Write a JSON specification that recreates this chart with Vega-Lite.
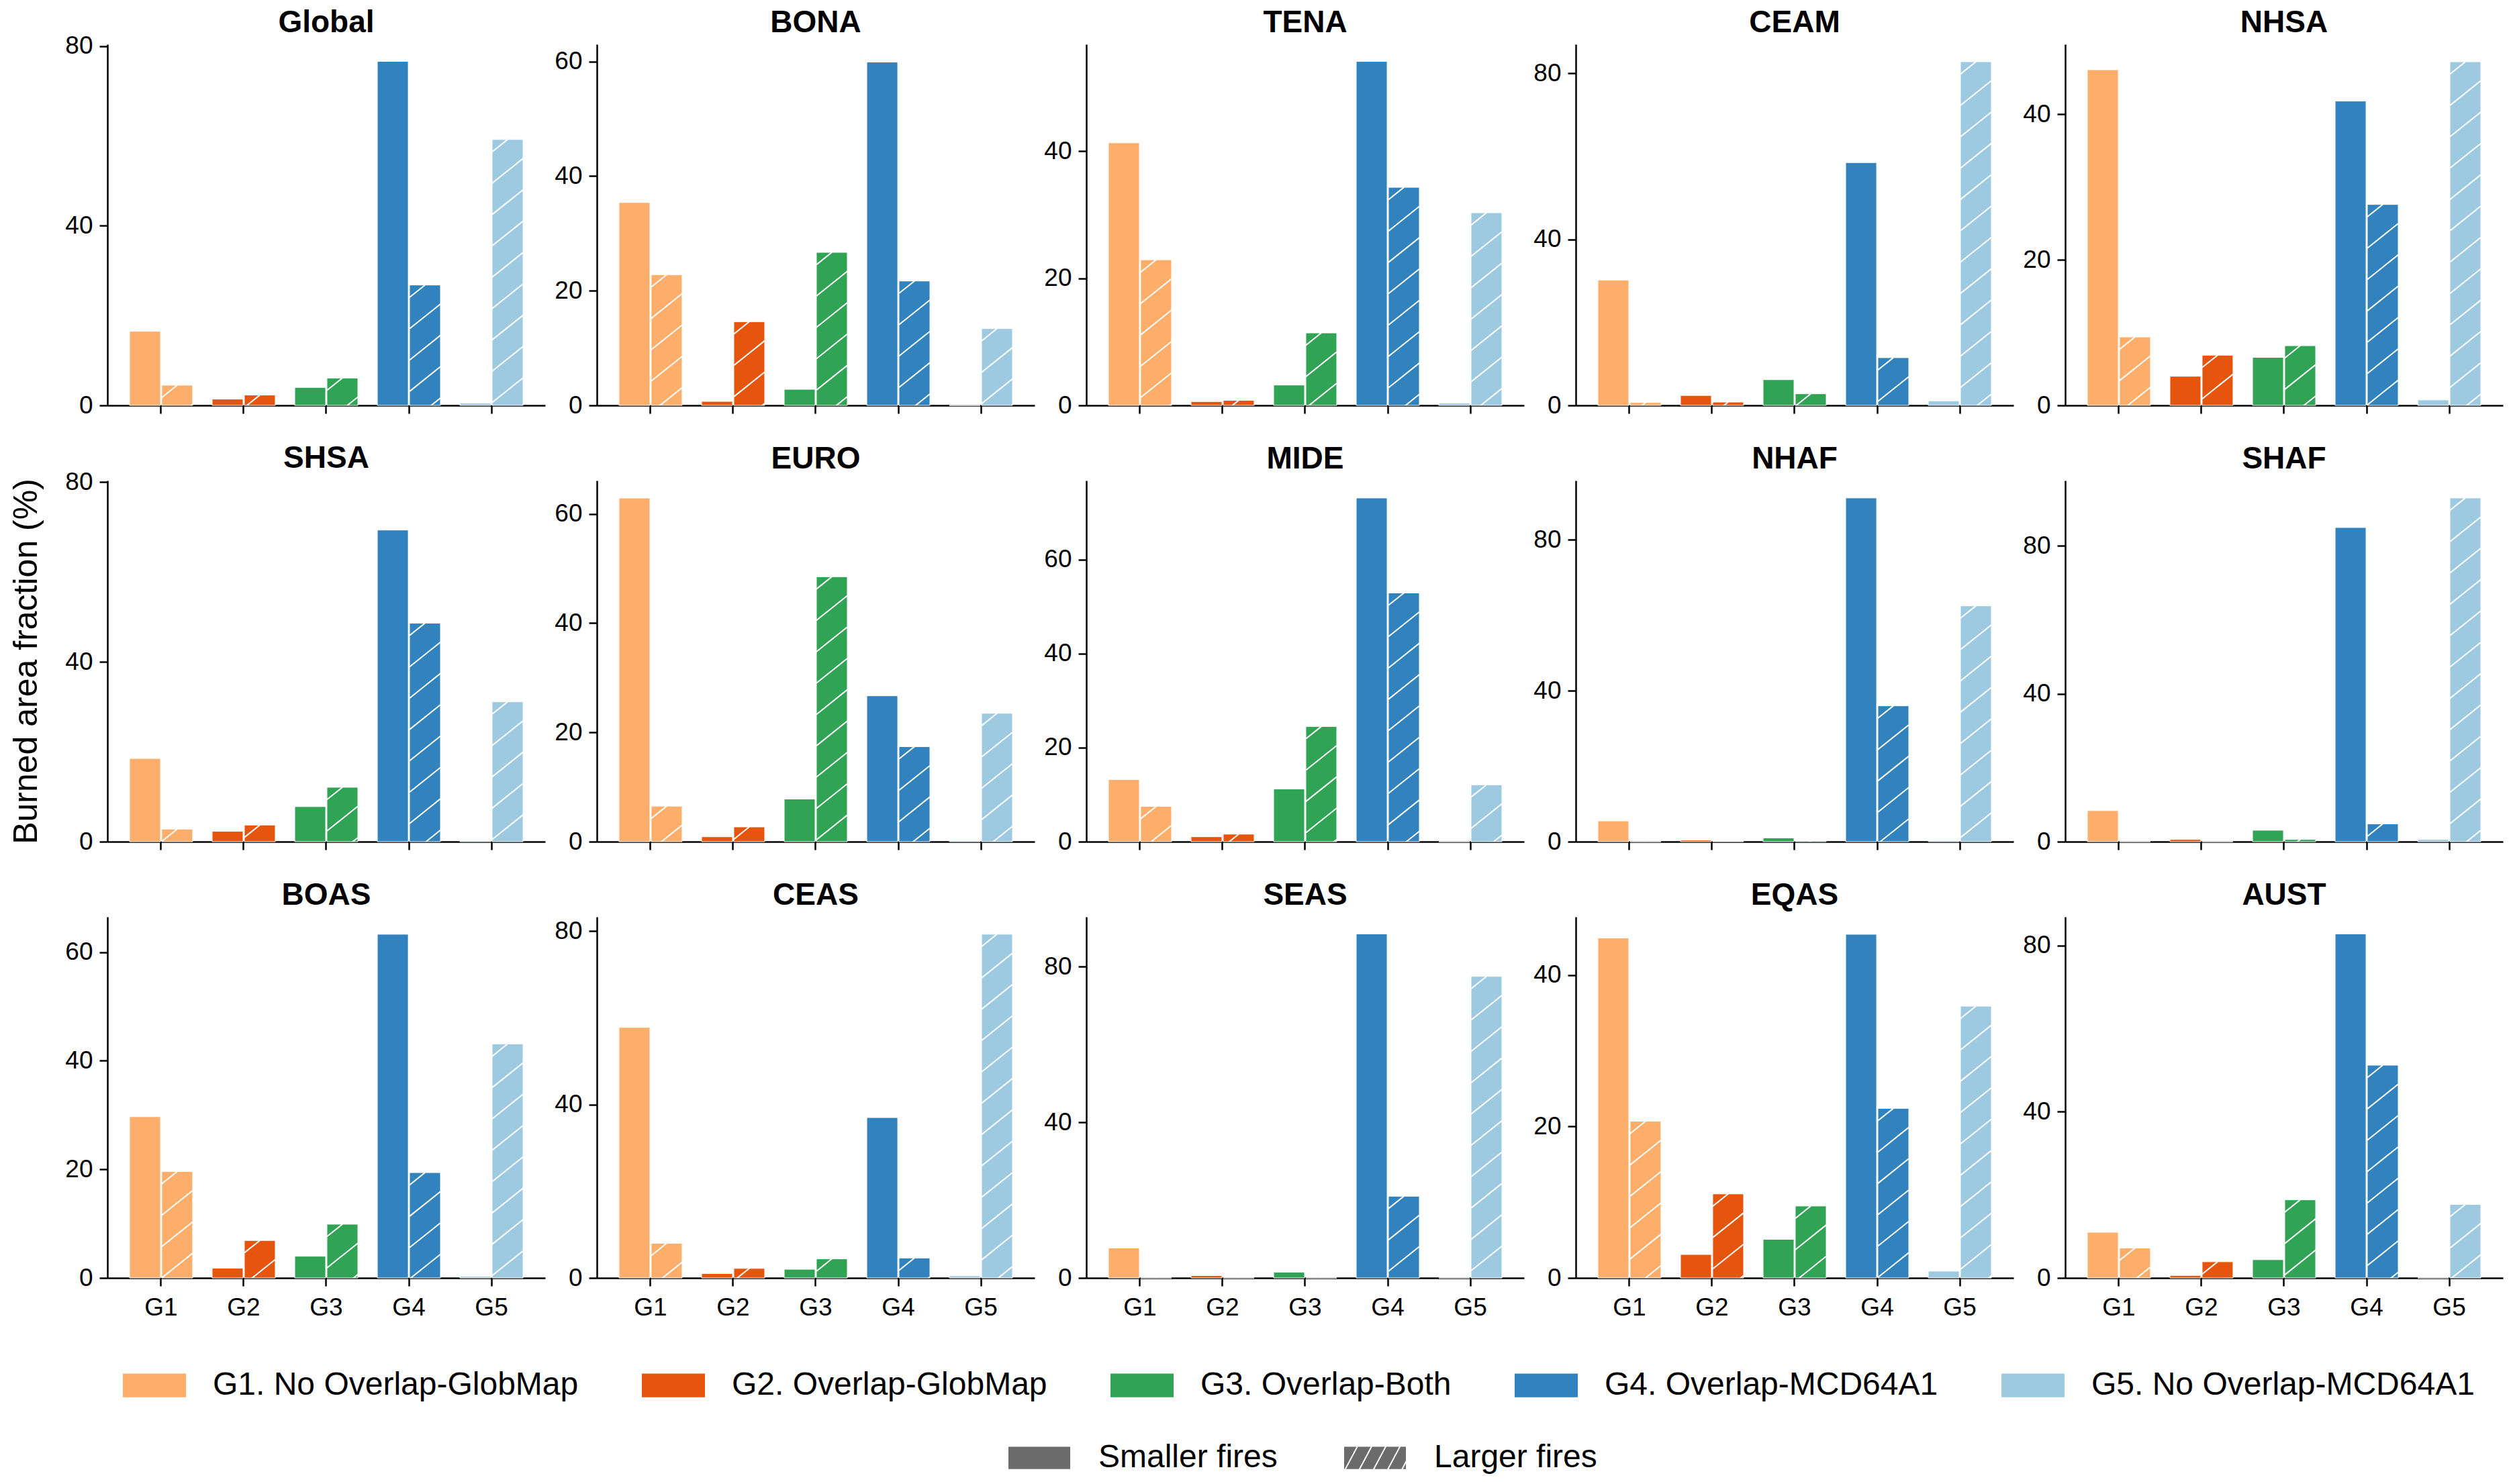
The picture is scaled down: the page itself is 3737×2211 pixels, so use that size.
{
  "$schema": "https://vega.github.io/schema/vega-lite/v6.json",
  "padding": {"left": 14, "top": 10, "right": 10, "bottom": 4},
  "background": "white",
  "data": {"values": [
    {"region": "Global", "group": "G1", "size": "Smaller fires", "value": 16.5},
    {"region": "Global", "group": "G1", "size": "Larger fires", "value": 4.5},
    {"region": "Global", "group": "G2", "size": "Smaller fires", "value": 1.4},
    {"region": "Global", "group": "G2", "size": "Larger fires", "value": 2.3},
    {"region": "Global", "group": "G3", "size": "Smaller fires", "value": 4.0},
    {"region": "Global", "group": "G3", "size": "Larger fires", "value": 6.1},
    {"region": "Global", "group": "G4", "size": "Smaller fires", "value": 76.6},
    {"region": "Global", "group": "G4", "size": "Larger fires", "value": 26.8},
    {"region": "Global", "group": "G5", "size": "Smaller fires", "value": 0.5},
    {"region": "Global", "group": "G5", "size": "Larger fires", "value": 59.2},
    {"region": "BONA", "group": "G1", "size": "Smaller fires", "value": 35.4},
    {"region": "BONA", "group": "G1", "size": "Larger fires", "value": 22.8},
    {"region": "BONA", "group": "G2", "size": "Smaller fires", "value": 0.7},
    {"region": "BONA", "group": "G2", "size": "Larger fires", "value": 14.6},
    {"region": "BONA", "group": "G3", "size": "Smaller fires", "value": 2.8},
    {"region": "BONA", "group": "G3", "size": "Larger fires", "value": 26.7},
    {"region": "BONA", "group": "G4", "size": "Smaller fires", "value": 59.9},
    {"region": "BONA", "group": "G4", "size": "Larger fires", "value": 21.7},
    {"region": "BONA", "group": "G5", "size": "Smaller fires", "value": 0},
    {"region": "BONA", "group": "G5", "size": "Larger fires", "value": 13.4},
    {"region": "TENA", "group": "G1", "size": "Smaller fires", "value": 41.3},
    {"region": "TENA", "group": "G1", "size": "Larger fires", "value": 22.9},
    {"region": "TENA", "group": "G2", "size": "Smaller fires", "value": 0.6},
    {"region": "TENA", "group": "G2", "size": "Larger fires", "value": 0.8},
    {"region": "TENA", "group": "G3", "size": "Smaller fires", "value": 3.2},
    {"region": "TENA", "group": "G3", "size": "Larger fires", "value": 11.4},
    {"region": "TENA", "group": "G4", "size": "Smaller fires", "value": 54.1},
    {"region": "TENA", "group": "G4", "size": "Larger fires", "value": 34.3},
    {"region": "TENA", "group": "G5", "size": "Smaller fires", "value": 0.35},
    {"region": "TENA", "group": "G5", "size": "Larger fires", "value": 30.3},
    {"region": "CEAM", "group": "G1", "size": "Smaller fires", "value": 30.2},
    {"region": "CEAM", "group": "G1", "size": "Larger fires", "value": 0.7},
    {"region": "CEAM", "group": "G2", "size": "Smaller fires", "value": 2.4},
    {"region": "CEAM", "group": "G2", "size": "Larger fires", "value": 0.8},
    {"region": "CEAM", "group": "G3", "size": "Smaller fires", "value": 6.2},
    {"region": "CEAM", "group": "G3", "size": "Larger fires", "value": 2.8},
    {"region": "CEAM", "group": "G4", "size": "Smaller fires", "value": 58.5},
    {"region": "CEAM", "group": "G4", "size": "Larger fires", "value": 11.5},
    {"region": "CEAM", "group": "G5", "size": "Smaller fires", "value": 1.1},
    {"region": "CEAM", "group": "G5", "size": "Larger fires", "value": 82.8},
    {"region": "NHSA", "group": "G1", "size": "Smaller fires", "value": 46.1},
    {"region": "NHSA", "group": "G1", "size": "Larger fires", "value": 9.4},
    {"region": "NHSA", "group": "G2", "size": "Smaller fires", "value": 4.0},
    {"region": "NHSA", "group": "G2", "size": "Larger fires", "value": 6.9},
    {"region": "NHSA", "group": "G3", "size": "Smaller fires", "value": 6.6},
    {"region": "NHSA", "group": "G3", "size": "Larger fires", "value": 8.2},
    {"region": "NHSA", "group": "G4", "size": "Smaller fires", "value": 41.8},
    {"region": "NHSA", "group": "G4", "size": "Larger fires", "value": 27.6},
    {"region": "NHSA", "group": "G5", "size": "Smaller fires", "value": 0.75},
    {"region": "NHSA", "group": "G5", "size": "Larger fires", "value": 47.2},
    {"region": "SHSA", "group": "G1", "size": "Smaller fires", "value": 18.5},
    {"region": "SHSA", "group": "G1", "size": "Larger fires", "value": 2.8},
    {"region": "SHSA", "group": "G2", "size": "Smaller fires", "value": 2.3},
    {"region": "SHSA", "group": "G2", "size": "Larger fires", "value": 3.7},
    {"region": "SHSA", "group": "G3", "size": "Smaller fires", "value": 7.8},
    {"region": "SHSA", "group": "G3", "size": "Larger fires", "value": 12.1},
    {"region": "SHSA", "group": "G4", "size": "Smaller fires", "value": 69.3},
    {"region": "SHSA", "group": "G4", "size": "Larger fires", "value": 48.6},
    {"region": "SHSA", "group": "G5", "size": "Smaller fires", "value": 0.2},
    {"region": "SHSA", "group": "G5", "size": "Larger fires", "value": 31.1},
    {"region": "EURO", "group": "G1", "size": "Smaller fires", "value": 62.9},
    {"region": "EURO", "group": "G1", "size": "Larger fires", "value": 6.5},
    {"region": "EURO", "group": "G2", "size": "Smaller fires", "value": 0.9},
    {"region": "EURO", "group": "G2", "size": "Larger fires", "value": 2.7},
    {"region": "EURO", "group": "G3", "size": "Smaller fires", "value": 7.8},
    {"region": "EURO", "group": "G3", "size": "Larger fires", "value": 48.5},
    {"region": "EURO", "group": "G4", "size": "Smaller fires", "value": 26.7},
    {"region": "EURO", "group": "G4", "size": "Larger fires", "value": 17.4},
    {"region": "EURO", "group": "G5", "size": "Smaller fires", "value": 0.15},
    {"region": "EURO", "group": "G5", "size": "Larger fires", "value": 23.5},
    {"region": "MIDE", "group": "G1", "size": "Smaller fires", "value": 13.2},
    {"region": "MIDE", "group": "G1", "size": "Larger fires", "value": 7.5},
    {"region": "MIDE", "group": "G2", "size": "Smaller fires", "value": 1.05},
    {"region": "MIDE", "group": "G2", "size": "Larger fires", "value": 1.6},
    {"region": "MIDE", "group": "G3", "size": "Smaller fires", "value": 11.2},
    {"region": "MIDE", "group": "G3", "size": "Larger fires", "value": 24.5},
    {"region": "MIDE", "group": "G4", "size": "Smaller fires", "value": 73.1},
    {"region": "MIDE", "group": "G4", "size": "Larger fires", "value": 52.9},
    {"region": "MIDE", "group": "G5", "size": "Smaller fires", "value": 0},
    {"region": "MIDE", "group": "G5", "size": "Larger fires", "value": 12.1},
    {"region": "NHAF", "group": "G1", "size": "Smaller fires", "value": 5.5},
    {"region": "NHAF", "group": "G1", "size": "Larger fires", "value": 0},
    {"region": "NHAF", "group": "G2", "size": "Smaller fires", "value": 0.4},
    {"region": "NHAF", "group": "G2", "size": "Larger fires", "value": 0.1},
    {"region": "NHAF", "group": "G3", "size": "Smaller fires", "value": 1.0},
    {"region": "NHAF", "group": "G3", "size": "Larger fires", "value": 0.2},
    {"region": "NHAF", "group": "G4", "size": "Smaller fires", "value": 91.1},
    {"region": "NHAF", "group": "G4", "size": "Larger fires", "value": 36.0},
    {"region": "NHAF", "group": "G5", "size": "Smaller fires", "value": 0.3},
    {"region": "NHAF", "group": "G5", "size": "Larger fires", "value": 62.5},
    {"region": "SHAF", "group": "G1", "size": "Smaller fires", "value": 8.4},
    {"region": "SHAF", "group": "G1", "size": "Larger fires", "value": 0},
    {"region": "SHAF", "group": "G2", "size": "Smaller fires", "value": 0.6},
    {"region": "SHAF", "group": "G2", "size": "Larger fires", "value": 0},
    {"region": "SHAF", "group": "G3", "size": "Smaller fires", "value": 3.1},
    {"region": "SHAF", "group": "G3", "size": "Larger fires", "value": 0.6},
    {"region": "SHAF", "group": "G4", "size": "Smaller fires", "value": 85.0},
    {"region": "SHAF", "group": "G4", "size": "Larger fires", "value": 4.8},
    {"region": "SHAF", "group": "G5", "size": "Smaller fires", "value": 0.6},
    {"region": "SHAF", "group": "G5", "size": "Larger fires", "value": 93.0},
    {"region": "BOAS", "group": "G1", "size": "Smaller fires", "value": 29.7},
    {"region": "BOAS", "group": "G1", "size": "Larger fires", "value": 19.6},
    {"region": "BOAS", "group": "G2", "size": "Smaller fires", "value": 1.8},
    {"region": "BOAS", "group": "G2", "size": "Larger fires", "value": 6.9},
    {"region": "BOAS", "group": "G3", "size": "Smaller fires", "value": 4.0},
    {"region": "BOAS", "group": "G3", "size": "Larger fires", "value": 9.9},
    {"region": "BOAS", "group": "G4", "size": "Smaller fires", "value": 63.3},
    {"region": "BOAS", "group": "G4", "size": "Larger fires", "value": 19.4},
    {"region": "BOAS", "group": "G5", "size": "Smaller fires", "value": 0.3},
    {"region": "BOAS", "group": "G5", "size": "Larger fires", "value": 43.1},
    {"region": "CEAS", "group": "G1", "size": "Smaller fires", "value": 57.8},
    {"region": "CEAS", "group": "G1", "size": "Larger fires", "value": 8.0},
    {"region": "CEAS", "group": "G2", "size": "Smaller fires", "value": 1.0},
    {"region": "CEAS", "group": "G2", "size": "Larger fires", "value": 2.2},
    {"region": "CEAS", "group": "G3", "size": "Smaller fires", "value": 2.0},
    {"region": "CEAS", "group": "G3", "size": "Larger fires", "value": 4.4},
    {"region": "CEAS", "group": "G4", "size": "Smaller fires", "value": 37.0},
    {"region": "CEAS", "group": "G4", "size": "Larger fires", "value": 4.6},
    {"region": "CEAS", "group": "G5", "size": "Smaller fires", "value": 0.5},
    {"region": "CEAS", "group": "G5", "size": "Larger fires", "value": 79.3},
    {"region": "SEAS", "group": "G1", "size": "Smaller fires", "value": 7.7},
    {"region": "SEAS", "group": "G1", "size": "Larger fires", "value": 0},
    {"region": "SEAS", "group": "G2", "size": "Smaller fires", "value": 0.6},
    {"region": "SEAS", "group": "G2", "size": "Larger fires", "value": 0},
    {"region": "SEAS", "group": "G3", "size": "Smaller fires", "value": 1.5},
    {"region": "SEAS", "group": "G3", "size": "Larger fires", "value": 0},
    {"region": "SEAS", "group": "G4", "size": "Smaller fires", "value": 88.4},
    {"region": "SEAS", "group": "G4", "size": "Larger fires", "value": 21.0},
    {"region": "SEAS", "group": "G5", "size": "Smaller fires", "value": 0},
    {"region": "SEAS", "group": "G5", "size": "Larger fires", "value": 77.5},
    {"region": "EQAS", "group": "G1", "size": "Smaller fires", "value": 44.9},
    {"region": "EQAS", "group": "G1", "size": "Larger fires", "value": 20.7},
    {"region": "EQAS", "group": "G2", "size": "Smaller fires", "value": 3.1},
    {"region": "EQAS", "group": "G2", "size": "Larger fires", "value": 11.1},
    {"region": "EQAS", "group": "G3", "size": "Smaller fires", "value": 5.1},
    {"region": "EQAS", "group": "G3", "size": "Larger fires", "value": 9.5},
    {"region": "EQAS", "group": "G4", "size": "Smaller fires", "value": 45.4},
    {"region": "EQAS", "group": "G4", "size": "Larger fires", "value": 22.4},
    {"region": "EQAS", "group": "G5", "size": "Smaller fires", "value": 0.9},
    {"region": "EQAS", "group": "G5", "size": "Larger fires", "value": 35.9},
    {"region": "AUST", "group": "G1", "size": "Smaller fires", "value": 11.0},
    {"region": "AUST", "group": "G1", "size": "Larger fires", "value": 7.2},
    {"region": "AUST", "group": "G2", "size": "Smaller fires", "value": 0.6},
    {"region": "AUST", "group": "G2", "size": "Larger fires", "value": 3.9},
    {"region": "AUST", "group": "G3", "size": "Smaller fires", "value": 4.4},
    {"region": "AUST", "group": "G3", "size": "Larger fires", "value": 18.8},
    {"region": "AUST", "group": "G4", "size": "Smaller fires", "value": 82.8},
    {"region": "AUST", "group": "G4", "size": "Larger fires", "value": 51.2},
    {"region": "AUST", "group": "G5", "size": "Smaller fires", "value": 0},
    {"region": "AUST", "group": "G5", "size": "Larger fires", "value": 17.7}
  ]},
  "columns": 5,
  "bounds": "flush",
  "spacing": {"row": 112, "column": 77},
  "concat": [
    {"title": {"text": "Global", "offset": -8}, "transform": [{"filter": "datum.region === 'Global'"}],
     "encoding": {
       "x": {"field": "group", "type": "nominal", "scale": {"paddingInner": 0.236, "paddingOuter": 0.268}, "axis": {"title": null, "labels": false}},
       "xOffset": {"field": "size", "type": "nominal", "scale": {"domain": ["Smaller fires", "Larger fires"], "paddingInner": 0.04}},
       "y": {"field": "value", "type": "quantitative", "scale": {"domain": [0, 80.4], "nice": false}, "axis": {"values": [0, 40, 80], "title": null}}},
     "layer": [
       {"mark": {"type": "bar", "stroke": "white", "strokeWidth": 1},
        "encoding": {"color": {"field": "group", "type": "nominal",
          "scale": {"domain": ["G1", "G2", "G3", "G4", "G5"], "range": ["#fdae6b", "#e6550d", "#31a354", "#3182bd", "#9ecae1"]},
          "legend": {"title": null, "orient": "none", "legendX": 23, "legendY": 1951,
            "labelExpr": "{'G1': 'G1. No Overlap-GlobMap', 'G2': 'G2. Overlap-GlobMap', 'G3': 'G3. Overlap-Both', 'G4': 'G4. Overlap-MCD64A1', 'G5': 'G5. No Overlap-MCD64A1'}[datum.label]"}}}},
       {"transform": [{"filter": "datum.size === 'Larger fires'"}],
        "mark": {"type": "point", "filled": false, "stroke": "white", "strokeWidth": 2, "opacity": 1, "size": 2116, "clip": true, "shape": "M-1,0.8L0,0M-1,2.83L1,1.23M-1,4.86L1,3.26M-1,6.89L1,5.29M-1,8.92L1,7.32M-1,10.95L1,9.35M-1,12.98L1,11.38M-1,15.01L1,13.41M-1,17.04L1,15.44M-1,19.07L1,17.47M-1,21.1L1,19.5M-1,23.13L1,21.53M-1,25.16L1,23.56M-1,27.19L1,25.59"}},
       {"mark": {"type": "point", "filled": true, "fill": "#6b6b6b", "strokeWidth": 2, "opacity": 0, "size": 8836, "clip": true},
        "encoding": {
          "shape": {"field": "size", "type": "nominal",
            "scale": {"domain": ["Smaller fires", "Larger fires"], "range": ["M-1,-0.375H1V0.375H-1Z", "M-1,-0.375H1V0.375H-1ZM-0.95,0.375L-0.55,-0.375M-0.5,0.375L-0.1,-0.375M-0.05,0.375L0.35,-0.375M0.4,0.375L0.8,-0.375M0.85,0.375L1,0.09"]},
            "legend": {"title": null, "orient": "none", "legendX": 1340, "legendY": 2058, "symbolOpacity": 1, "symbolStrokeWidth": 2}},
          "stroke": {"field": "size", "type": "nominal",
            "scale": {"domain": ["Smaller fires", "Larger fires"], "range": ["white", "white"]},
            "legend": {"title": null, "orient": "none", "legendX": 1340, "legendY": 2058, "symbolOpacity": 1, "symbolStrokeWidth": 2}}}}
     ]},
    {"title": "BONA", "transform": [{"filter": "datum.region === 'BONA'"}],
     "encoding": {
       "x": {"field": "group", "type": "nominal", "scale": {"paddingInner": 0.236, "paddingOuter": 0.268}, "axis": {"title": null, "labels": false}},
       "xOffset": {"field": "size", "type": "nominal", "scale": {"domain": ["Smaller fires", "Larger fires"], "paddingInner": 0.04}},
       "y": {"field": "value", "type": "quantitative", "scale": {"domain": [0, 63.0], "nice": false}, "axis": {"values": [0, 20, 40, 60], "title": null}}},
     "layer": [
       {"mark": {"type": "bar", "stroke": "white", "strokeWidth": 1}, "encoding": {"color": {"field": "group", "type": "nominal", "legend": null}}},
       {"transform": [{"filter": "datum.size === 'Larger fires'"}], "mark": {"type": "point", "filled": false, "stroke": "white", "strokeWidth": 2, "opacity": 1, "size": 2116, "clip": true, "shape": "M-1,0.8L0,0M-1,2.83L1,1.23M-1,4.86L1,3.26M-1,6.89L1,5.29M-1,8.92L1,7.32M-1,10.95L1,9.35M-1,12.98L1,11.38M-1,15.01L1,13.41M-1,17.04L1,15.44M-1,19.07L1,17.47M-1,21.1L1,19.5M-1,23.13L1,21.53M-1,25.16L1,23.56M-1,27.19L1,25.59"}}
     ]},
    {"title": "TENA", "transform": [{"filter": "datum.region === 'TENA'"}],
     "encoding": {
       "x": {"field": "group", "type": "nominal", "scale": {"paddingInner": 0.236, "paddingOuter": 0.268}, "axis": {"title": null, "labels": false}},
       "xOffset": {"field": "size", "type": "nominal", "scale": {"domain": ["Smaller fires", "Larger fires"], "paddingInner": 0.04}},
       "y": {"field": "value", "type": "quantitative", "scale": {"domain": [0, 56.8], "nice": false}, "axis": {"values": [0, 20, 40], "title": null}}},
     "layer": [
       {"mark": {"type": "bar", "stroke": "white", "strokeWidth": 1}, "encoding": {"color": {"field": "group", "type": "nominal", "legend": null}}},
       {"transform": [{"filter": "datum.size === 'Larger fires'"}], "mark": {"type": "point", "filled": false, "stroke": "white", "strokeWidth": 2, "opacity": 1, "size": 2116, "clip": true, "shape": "M-1,0.8L0,0M-1,2.83L1,1.23M-1,4.86L1,3.26M-1,6.89L1,5.29M-1,8.92L1,7.32M-1,10.95L1,9.35M-1,12.98L1,11.38M-1,15.01L1,13.41M-1,17.04L1,15.44M-1,19.07L1,17.47M-1,21.1L1,19.5M-1,23.13L1,21.53M-1,25.16L1,23.56M-1,27.19L1,25.59"}}
     ]},
    {"title": "CEAM", "transform": [{"filter": "datum.region === 'CEAM'"}],
     "encoding": {
       "x": {"field": "group", "type": "nominal", "scale": {"paddingInner": 0.236, "paddingOuter": 0.268}, "axis": {"title": null, "labels": false}},
       "xOffset": {"field": "size", "type": "nominal", "scale": {"domain": ["Smaller fires", "Larger fires"], "paddingInner": 0.04}},
       "y": {"field": "value", "type": "quantitative", "scale": {"domain": [0, 87.0], "nice": false}, "axis": {"values": [0, 40, 80], "title": null}}},
     "layer": [
       {"mark": {"type": "bar", "stroke": "white", "strokeWidth": 1}, "encoding": {"color": {"field": "group", "type": "nominal", "legend": null}}},
       {"transform": [{"filter": "datum.size === 'Larger fires'"}], "mark": {"type": "point", "filled": false, "stroke": "white", "strokeWidth": 2, "opacity": 1, "size": 2116, "clip": true, "shape": "M-1,0.8L0,0M-1,2.83L1,1.23M-1,4.86L1,3.26M-1,6.89L1,5.29M-1,8.92L1,7.32M-1,10.95L1,9.35M-1,12.98L1,11.38M-1,15.01L1,13.41M-1,17.04L1,15.44M-1,19.07L1,17.47M-1,21.1L1,19.5M-1,23.13L1,21.53M-1,25.16L1,23.56M-1,27.19L1,25.59"}}
     ]},
    {"title": "NHSA", "transform": [{"filter": "datum.region === 'NHSA'"}],
     "encoding": {
       "x": {"field": "group", "type": "nominal", "scale": {"paddingInner": 0.236, "paddingOuter": 0.268}, "axis": {"title": null, "labels": false}},
       "xOffset": {"field": "size", "type": "nominal", "scale": {"domain": ["Smaller fires", "Larger fires"], "paddingInner": 0.04}},
       "y": {"field": "value", "type": "quantitative", "scale": {"domain": [0, 49.6], "nice": false}, "axis": {"values": [0, 20, 40], "title": null}}},
     "layer": [
       {"mark": {"type": "bar", "stroke": "white", "strokeWidth": 1}, "encoding": {"color": {"field": "group", "type": "nominal", "legend": null}}},
       {"transform": [{"filter": "datum.size === 'Larger fires'"}], "mark": {"type": "point", "filled": false, "stroke": "white", "strokeWidth": 2, "opacity": 1, "size": 2116, "clip": true, "shape": "M-1,0.8L0,0M-1,2.83L1,1.23M-1,4.86L1,3.26M-1,6.89L1,5.29M-1,8.92L1,7.32M-1,10.95L1,9.35M-1,12.98L1,11.38M-1,15.01L1,13.41M-1,17.04L1,15.44M-1,19.07L1,17.47M-1,21.1L1,19.5M-1,23.13L1,21.53M-1,25.16L1,23.56M-1,27.19L1,25.59"}}
     ]},
    {"title": {"text": "SHSA", "offset": -8}, "transform": [{"filter": "datum.region === 'SHSA'"}],
     "encoding": {
       "x": {"field": "group", "type": "nominal", "scale": {"paddingInner": 0.236, "paddingOuter": 0.268}, "axis": {"title": null, "labels": false}},
       "xOffset": {"field": "size", "type": "nominal", "scale": {"domain": ["Smaller fires", "Larger fires"], "paddingInner": 0.04}},
       "y": {"field": "value", "type": "quantitative", "scale": {"domain": [0, 80.3], "nice": false}, "axis": {"values": [0, 40, 80], "title": "Burned area fraction (%)", "titlePadding": 32}}},
     "layer": [
       {"mark": {"type": "bar", "stroke": "white", "strokeWidth": 1}, "encoding": {"color": {"field": "group", "type": "nominal", "legend": null}}},
       {"transform": [{"filter": "datum.size === 'Larger fires'"}], "mark": {"type": "point", "filled": false, "stroke": "white", "strokeWidth": 2, "opacity": 1, "size": 2116, "clip": true, "shape": "M-1,0.8L0,0M-1,2.83L1,1.23M-1,4.86L1,3.26M-1,6.89L1,5.29M-1,8.92L1,7.32M-1,10.95L1,9.35M-1,12.98L1,11.38M-1,15.01L1,13.41M-1,17.04L1,15.44M-1,19.07L1,17.47M-1,21.1L1,19.5M-1,23.13L1,21.53M-1,25.16L1,23.56M-1,27.19L1,25.59"}}
     ]},
    {"title": "EURO", "transform": [{"filter": "datum.region === 'EURO'"}],
     "encoding": {
       "x": {"field": "group", "type": "nominal", "scale": {"paddingInner": 0.236, "paddingOuter": 0.268}, "axis": {"title": null, "labels": false}},
       "xOffset": {"field": "size", "type": "nominal", "scale": {"domain": ["Smaller fires", "Larger fires"], "paddingInner": 0.04}},
       "y": {"field": "value", "type": "quantitative", "scale": {"domain": [0, 66.1], "nice": false}, "axis": {"values": [0, 20, 40, 60], "title": null}}},
     "layer": [
       {"mark": {"type": "bar", "stroke": "white", "strokeWidth": 1}, "encoding": {"color": {"field": "group", "type": "nominal", "legend": null}}},
       {"transform": [{"filter": "datum.size === 'Larger fires'"}], "mark": {"type": "point", "filled": false, "stroke": "white", "strokeWidth": 2, "opacity": 1, "size": 2116, "clip": true, "shape": "M-1,0.8L0,0M-1,2.83L1,1.23M-1,4.86L1,3.26M-1,6.89L1,5.29M-1,8.92L1,7.32M-1,10.95L1,9.35M-1,12.98L1,11.38M-1,15.01L1,13.41M-1,17.04L1,15.44M-1,19.07L1,17.47M-1,21.1L1,19.5M-1,23.13L1,21.53M-1,25.16L1,23.56M-1,27.19L1,25.59"}}
     ]},
    {"title": "MIDE", "transform": [{"filter": "datum.region === 'MIDE'"}],
     "encoding": {
       "x": {"field": "group", "type": "nominal", "scale": {"paddingInner": 0.236, "paddingOuter": 0.268}, "axis": {"title": null, "labels": false}},
       "xOffset": {"field": "size", "type": "nominal", "scale": {"domain": ["Smaller fires", "Larger fires"], "paddingInner": 0.04}},
       "y": {"field": "value", "type": "quantitative", "scale": {"domain": [0, 76.8], "nice": false}, "axis": {"values": [0, 20, 40, 60], "title": null}}},
     "layer": [
       {"mark": {"type": "bar", "stroke": "white", "strokeWidth": 1}, "encoding": {"color": {"field": "group", "type": "nominal", "legend": null}}},
       {"transform": [{"filter": "datum.size === 'Larger fires'"}], "mark": {"type": "point", "filled": false, "stroke": "white", "strokeWidth": 2, "opacity": 1, "size": 2116, "clip": true, "shape": "M-1,0.8L0,0M-1,2.83L1,1.23M-1,4.86L1,3.26M-1,6.89L1,5.29M-1,8.92L1,7.32M-1,10.95L1,9.35M-1,12.98L1,11.38M-1,15.01L1,13.41M-1,17.04L1,15.44M-1,19.07L1,17.47M-1,21.1L1,19.5M-1,23.13L1,21.53M-1,25.16L1,23.56M-1,27.19L1,25.59"}}
     ]},
    {"title": "NHAF", "transform": [{"filter": "datum.region === 'NHAF'"}],
     "encoding": {
       "x": {"field": "group", "type": "nominal", "scale": {"paddingInner": 0.236, "paddingOuter": 0.268}, "axis": {"title": null, "labels": false}},
       "xOffset": {"field": "size", "type": "nominal", "scale": {"domain": ["Smaller fires", "Larger fires"], "paddingInner": 0.04}},
       "y": {"field": "value", "type": "quantitative", "scale": {"domain": [0, 95.7], "nice": false}, "axis": {"values": [0, 40, 80], "title": null}}},
     "layer": [
       {"mark": {"type": "bar", "stroke": "white", "strokeWidth": 1}, "encoding": {"color": {"field": "group", "type": "nominal", "legend": null}}},
       {"transform": [{"filter": "datum.size === 'Larger fires'"}], "mark": {"type": "point", "filled": false, "stroke": "white", "strokeWidth": 2, "opacity": 1, "size": 2116, "clip": true, "shape": "M-1,0.8L0,0M-1,2.83L1,1.23M-1,4.86L1,3.26M-1,6.89L1,5.29M-1,8.92L1,7.32M-1,10.95L1,9.35M-1,12.98L1,11.38M-1,15.01L1,13.41M-1,17.04L1,15.44M-1,19.07L1,17.47M-1,21.1L1,19.5M-1,23.13L1,21.53M-1,25.16L1,23.56M-1,27.19L1,25.59"}}
     ]},
    {"title": "SHAF", "transform": [{"filter": "datum.region === 'SHAF'"}],
     "encoding": {
       "x": {"field": "group", "type": "nominal", "scale": {"paddingInner": 0.236, "paddingOuter": 0.268}, "axis": {"title": null, "labels": false}},
       "xOffset": {"field": "size", "type": "nominal", "scale": {"domain": ["Smaller fires", "Larger fires"], "paddingInner": 0.04}},
       "y": {"field": "value", "type": "quantitative", "scale": {"domain": [0, 97.7], "nice": false}, "axis": {"values": [0, 40, 80], "title": null}}},
     "layer": [
       {"mark": {"type": "bar", "stroke": "white", "strokeWidth": 1}, "encoding": {"color": {"field": "group", "type": "nominal", "legend": null}}},
       {"transform": [{"filter": "datum.size === 'Larger fires'"}], "mark": {"type": "point", "filled": false, "stroke": "white", "strokeWidth": 2, "opacity": 1, "size": 2116, "clip": true, "shape": "M-1,0.8L0,0M-1,2.83L1,1.23M-1,4.86L1,3.26M-1,6.89L1,5.29M-1,8.92L1,7.32M-1,10.95L1,9.35M-1,12.98L1,11.38M-1,15.01L1,13.41M-1,17.04L1,15.44M-1,19.07L1,17.47M-1,21.1L1,19.5M-1,23.13L1,21.53M-1,25.16L1,23.56M-1,27.19L1,25.59"}}
     ]},
    {"title": "BOAS", "transform": [{"filter": "datum.region === 'BOAS'"}],
     "encoding": {
       "x": {"field": "group", "type": "nominal", "scale": {"paddingInner": 0.236, "paddingOuter": 0.268}, "axis": {"title": null}},
       "xOffset": {"field": "size", "type": "nominal", "scale": {"domain": ["Smaller fires", "Larger fires"], "paddingInner": 0.04}},
       "y": {"field": "value", "type": "quantitative", "scale": {"domain": [0, 66.5], "nice": false}, "axis": {"values": [0, 20, 40, 60], "title": null}}},
     "layer": [
       {"mark": {"type": "bar", "stroke": "white", "strokeWidth": 1}, "encoding": {"color": {"field": "group", "type": "nominal", "legend": null}}},
       {"transform": [{"filter": "datum.size === 'Larger fires'"}], "mark": {"type": "point", "filled": false, "stroke": "white", "strokeWidth": 2, "opacity": 1, "size": 2116, "clip": true, "shape": "M-1,0.8L0,0M-1,2.83L1,1.23M-1,4.86L1,3.26M-1,6.89L1,5.29M-1,8.92L1,7.32M-1,10.95L1,9.35M-1,12.98L1,11.38M-1,15.01L1,13.41M-1,17.04L1,15.44M-1,19.07L1,17.47M-1,21.1L1,19.5M-1,23.13L1,21.53M-1,25.16L1,23.56M-1,27.19L1,25.59"}}
     ]},
    {"title": "CEAS", "transform": [{"filter": "datum.region === 'CEAS'"}],
     "encoding": {
       "x": {"field": "group", "type": "nominal", "scale": {"paddingInner": 0.236, "paddingOuter": 0.268}, "axis": {"title": null}},
       "xOffset": {"field": "size", "type": "nominal", "scale": {"domain": ["Smaller fires", "Larger fires"], "paddingInner": 0.04}},
       "y": {"field": "value", "type": "quantitative", "scale": {"domain": [0, 83.3], "nice": false}, "axis": {"values": [0, 40, 80], "title": null}}},
     "layer": [
       {"mark": {"type": "bar", "stroke": "white", "strokeWidth": 1}, "encoding": {"color": {"field": "group", "type": "nominal", "legend": null}}},
       {"transform": [{"filter": "datum.size === 'Larger fires'"}], "mark": {"type": "point", "filled": false, "stroke": "white", "strokeWidth": 2, "opacity": 1, "size": 2116, "clip": true, "shape": "M-1,0.8L0,0M-1,2.83L1,1.23M-1,4.86L1,3.26M-1,6.89L1,5.29M-1,8.92L1,7.32M-1,10.95L1,9.35M-1,12.98L1,11.38M-1,15.01L1,13.41M-1,17.04L1,15.44M-1,19.07L1,17.47M-1,21.1L1,19.5M-1,23.13L1,21.53M-1,25.16L1,23.56M-1,27.19L1,25.59"}}
     ]},
    {"title": "SEAS", "transform": [{"filter": "datum.region === 'SEAS'"}],
     "encoding": {
       "x": {"field": "group", "type": "nominal", "scale": {"paddingInner": 0.236, "paddingOuter": 0.268}, "axis": {"title": null}},
       "xOffset": {"field": "size", "type": "nominal", "scale": {"domain": ["Smaller fires", "Larger fires"], "paddingInner": 0.04}},
       "y": {"field": "value", "type": "quantitative", "scale": {"domain": [0, 92.8], "nice": false}, "axis": {"values": [0, 40, 80], "title": null}}},
     "layer": [
       {"mark": {"type": "bar", "stroke": "white", "strokeWidth": 1}, "encoding": {"color": {"field": "group", "type": "nominal", "legend": null}}},
       {"transform": [{"filter": "datum.size === 'Larger fires'"}], "mark": {"type": "point", "filled": false, "stroke": "white", "strokeWidth": 2, "opacity": 1, "size": 2116, "clip": true, "shape": "M-1,0.8L0,0M-1,2.83L1,1.23M-1,4.86L1,3.26M-1,6.89L1,5.29M-1,8.92L1,7.32M-1,10.95L1,9.35M-1,12.98L1,11.38M-1,15.01L1,13.41M-1,17.04L1,15.44M-1,19.07L1,17.47M-1,21.1L1,19.5M-1,23.13L1,21.53M-1,25.16L1,23.56M-1,27.19L1,25.59"}}
     ]},
    {"title": "EQAS", "transform": [{"filter": "datum.region === 'EQAS'"}],
     "encoding": {
       "x": {"field": "group", "type": "nominal", "scale": {"paddingInner": 0.236, "paddingOuter": 0.268}, "axis": {"title": null}},
       "xOffset": {"field": "size", "type": "nominal", "scale": {"domain": ["Smaller fires", "Larger fires"], "paddingInner": 0.04}},
       "y": {"field": "value", "type": "quantitative", "scale": {"domain": [0, 47.7], "nice": false}, "axis": {"values": [0, 20, 40], "title": null}}},
     "layer": [
       {"mark": {"type": "bar", "stroke": "white", "strokeWidth": 1}, "encoding": {"color": {"field": "group", "type": "nominal", "legend": null}}},
       {"transform": [{"filter": "datum.size === 'Larger fires'"}], "mark": {"type": "point", "filled": false, "stroke": "white", "strokeWidth": 2, "opacity": 1, "size": 2116, "clip": true, "shape": "M-1,0.8L0,0M-1,2.83L1,1.23M-1,4.86L1,3.26M-1,6.89L1,5.29M-1,8.92L1,7.32M-1,10.95L1,9.35M-1,12.98L1,11.38M-1,15.01L1,13.41M-1,17.04L1,15.44M-1,19.07L1,17.47M-1,21.1L1,19.5M-1,23.13L1,21.53M-1,25.16L1,23.56M-1,27.19L1,25.59"}}
     ]},
    {"title": "AUST", "transform": [{"filter": "datum.region === 'AUST'"}],
     "encoding": {
       "x": {"field": "group", "type": "nominal", "scale": {"paddingInner": 0.236, "paddingOuter": 0.268}, "axis": {"title": null}},
       "xOffset": {"field": "size", "type": "nominal", "scale": {"domain": ["Smaller fires", "Larger fires"], "paddingInner": 0.04}},
       "y": {"field": "value", "type": "quantitative", "scale": {"domain": [0, 86.9], "nice": false}, "axis": {"values": [0, 40, 80], "title": null}}},
     "layer": [
       {"mark": {"type": "bar", "stroke": "white", "strokeWidth": 1}, "encoding": {"color": {"field": "group", "type": "nominal", "legend": null}}},
       {"transform": [{"filter": "datum.size === 'Larger fires'"}], "mark": {"type": "point", "filled": false, "stroke": "white", "strokeWidth": 2, "opacity": 1, "size": 2116, "clip": true, "shape": "M-1,0.8L0,0M-1,2.83L1,1.23M-1,4.86L1,3.26M-1,6.89L1,5.29M-1,8.92L1,7.32M-1,10.95L1,9.35M-1,12.98L1,11.38M-1,15.01L1,13.41M-1,17.04L1,15.44M-1,19.07L1,17.47M-1,21.1L1,19.5M-1,23.13L1,21.53M-1,25.16L1,23.56M-1,27.19L1,25.59"}}
     ]}
  ],
  "config": {
    "font": "Liberation Sans",
    "view": {"discreteWidth": 652, "continuousHeight": 538, "stroke": null},
    "title": {"font": "Liberation Sans", "fontSize": 46, "fontWeight": "bold", "color": "black", "offset": 8, "anchor": "middle", "frame": "group"},
    "axis": {"labelFont": "Liberation Sans", "labelFontSize": 37, "labelColor": "black", "domainColor": "black", "domainWidth": 2.5, "tickColor": "black", "tickWidth": 2.5, "tickSize": 12, "grid": false, "titleFont": "Liberation Sans", "titleFontSize": 50, "titleFontWeight": "normal", "titleColor": "black"},
    "axisX": {"labelAngle": 0, "labelPadding": 14},
    "axisY": {"labelPadding": 10, "labelFlush": false},
    "legend": {"direction": "horizontal", "labelFont": "Liberation Sans", "labelFontSize": 48, "labelColor": "black", "labelLimit": 0, "labelOffset": 40, "columnPadding": 94, "symbolSize": 8836, "symbolType": "M-1,-0.375H1V0.375H-1Z", "symbolStrokeWidth": 0}
  }
}
